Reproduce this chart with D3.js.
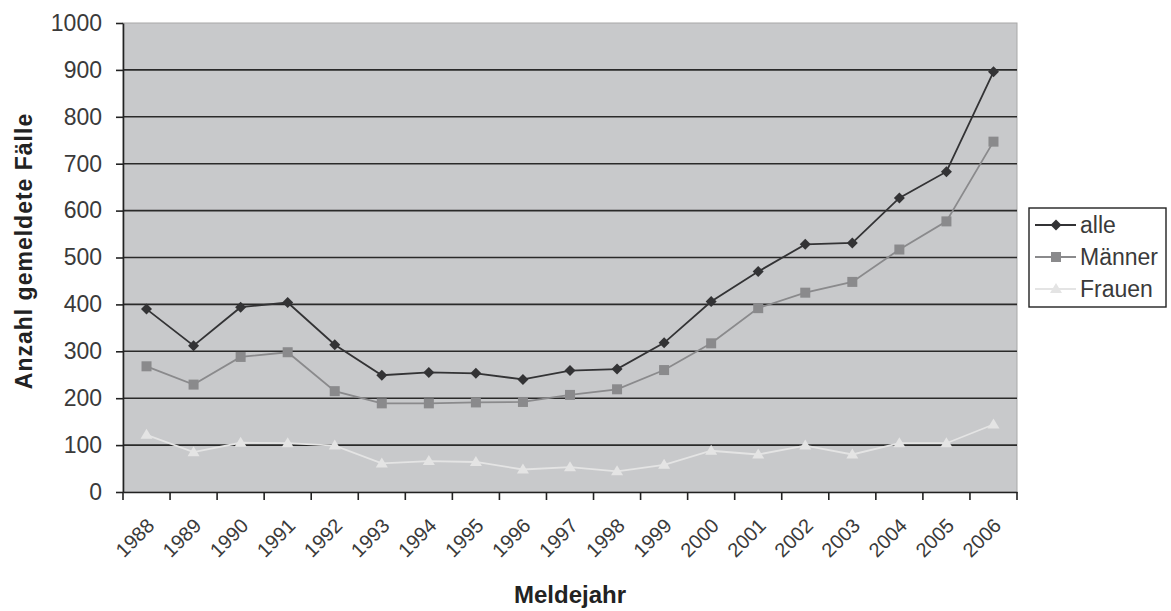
<!DOCTYPE html>
<html><head><meta charset="utf-8">
<script src="https://cdn.jsdelivr.net/npm/d3@7"></script>
<style>body{margin:0;background:#fff}svg{display:block}</style>
</head><body>
<svg id="c" width="1171" height="611"></svg>
<script>
const years = ["1988","1989","1990","1991","1992","1993","1994","1995","1996","1997","1998","1999","2000","2001","2002","2003","2004","2005","2006"];
const alle   = [390,312,394,404,314,249,255,253,240,259,262,318,406,470,528,531,627,683,896];
const maenner= [268,229,288,298,215,189,189,191,192,207,219,260,317,392,425,448,517,577,747];
const frauen = [122,85,105,104,99,61,66,64,48,53,44,58,88,80,99,80,104,104,144];
const yTicks = [0,100,200,300,400,500,600,700,800,900,1000];
const seriesNames = ["alle","Männer","Frauen"];

const svg = d3.select("#c");
const L=123, R=1017, T=23, B=492;
const x = d3.scaleBand().domain(years).range([L,R]);
const y = d3.scaleLinear().domain([0,1000]).range([B,T]);
const font = "'Liberation Sans', Arial, sans-serif";

svg.append("rect").attr("x",L).attr("y",T).attr("width",R-L).attr("height",B-T)
  .attr("fill","#c8c9cb").attr("stroke","#a8a8a8").attr("stroke-width",1);

// gridlines
svg.append("g").selectAll("line").data(yTicks.filter(d=>d>0&&d<1000)).join("line")
  .attr("x1",L).attr("x2",R).attr("y1",d=>y(d)).attr("y2",d=>y(d))
  .attr("stroke","#2a2a2a").attr("stroke-width",1.6);

// y axis
const ya = svg.append("g").attr("transform",`translate(${L},0)`)
  .call(d3.axisLeft(y).tickValues(yTicks).tickFormat(d3.format("d")).tickSize(7).tickPadding(14).tickSizeOuter(0));
ya.select(".domain").attr("stroke","#222").attr("stroke-width",1.6);
ya.selectAll(".tick line").attr("stroke","#222").attr("stroke-width",1.6);
ya.selectAll("text").attr("font-family",font).attr("font-size",23).attr("fill","#3a3a3a");

// x axis
const xa = svg.append("g").attr("transform",`translate(0,${B})`)
  .call(d3.axisBottom(x).tickSize(0).tickFormat(d=>d));
xa.select(".domain").attr("stroke","#222").attr("stroke-width",1.6);
xa.selectAll(".tick text").attr("font-family",font).attr("font-size",20).attr("fill","#3a3a3a")
  .attr("text-anchor","end").attr("dy",0).attr("y",0)
  .attr("transform","translate(9,35) rotate(-45)");
// boundary tick marks
const bounds = years.map(d=>x(d)).concat([R]);
svg.append("g").selectAll("line").data(bounds).join("line")
  .attr("x1",d=>d).attr("x2",d=>d).attr("y1",B).attr("y2",B+8)
  .attr("stroke","#222").attr("stroke-width",1.6);

// lines
const cx = d => x(d)+x.bandwidth()/2;
const line = d3.line().x((v,i)=>cx(years[i])).y(v=>y(v));
const data = [
  {name:"Frauen", vals:frauen, color:"#e4e4e4", shape:"tri"},
  {name:"Männer", vals:maenner, color:"#8a8a8c", shape:"sq"},
  {name:"alle", vals:alle, color:"#333335", shape:"dia"}
];
function marker(g, shape, color, px, py){
  if(shape==="dia") g.append("path").attr("d",`M${px},${py-5.5}L${px+5.5},${py}L${px},${py+5.5}L${px-5.5},${py}Z`).attr("fill",color);
  else if(shape==="sq") g.append("rect").attr("x",px-5).attr("y",py-5).attr("width",10).attr("height",10).attr("fill",color);
  else g.append("path").attr("d",`M${px},${py-6}L${px+6},${py+4}L${px-6},${py+4}Z`).attr("fill",color);
}
data.forEach(s=>{
  svg.append("path").datum(s.vals).attr("d",line).attr("fill","none")
    .attr("stroke",s.color).attr("stroke-width",1.8);
  const g = svg.append("g");
  s.vals.forEach((v,i)=>marker(g,s.shape,s.color,cx(years[i]),y(v)));
});

// axis titles
svg.append("text").attr("x",570).attr("y",603).attr("text-anchor","middle")
  .attr("font-family",font).attr("font-weight","bold").attr("font-size",24).attr("fill","#222").text("Meldejahr");
svg.append("text").attr("transform","translate(32,251) rotate(-90)").attr("text-anchor","middle")
  .attr("font-family",font).attr("font-weight","bold").attr("font-size",23).attr("letter-spacing",1)
  .attr("fill","#222").text("Anzahl gemeldete Fälle");

// legend
const lg = svg.append("g");
lg.append("rect").attr("x",1029).attr("y",208).attr("width",137).attr("height",99)
  .attr("fill","#fff").attr("stroke","#222").attr("stroke-width",1.4);
const legItems = [data[2],data[1],data[0]];
legItems.forEach((s,i)=>{
  const ly = 225 + i*32;
  lg.append("line").attr("x1",1035).attr("x2",1076).attr("y1",ly).attr("y2",ly)
    .attr("stroke",s.color).attr("stroke-width",1.8);
  marker(lg,s.shape,s.color,1056,ly);
  lg.append("text").attr("x",1080).attr("y",ly+8).attr("font-family",font).attr("font-size",23)
    .attr("fill","#3a3a3a").text(s.name);
});
</script>
</body></html>
